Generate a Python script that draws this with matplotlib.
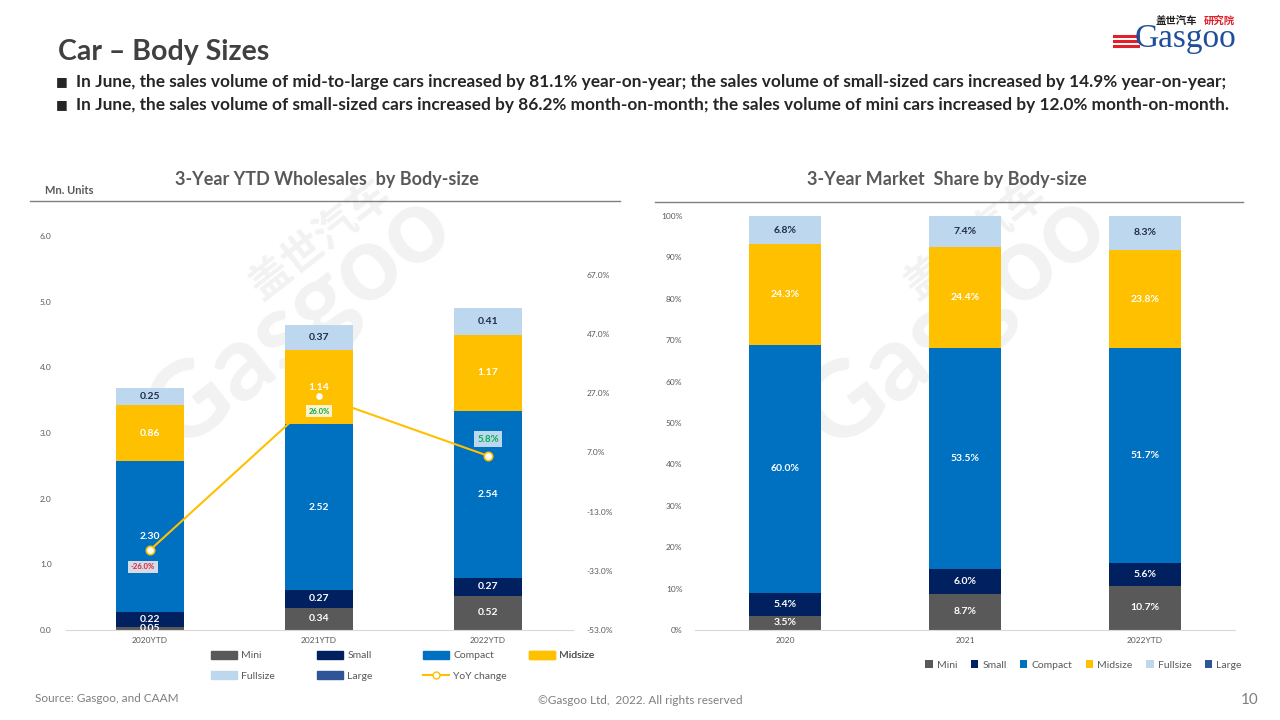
import numpy as np
import matplotlib.pyplot as plt
from matplotlib.patches import Patch
from matplotlib.lines import Line2D

plt.rcParams['font.family'] = ['Lato', 'Noto Sans CJK SC', 'DejaVu Sans']

# ---- data ----
years = ['2020YTD', '2021YTD', '2022YTD']
share_years = ['2020', '2021', '2022YTD']
segments = ['Mini', 'Small', 'Compact', 'Midsize', 'Fullsize', 'Large']

mini = [0.05, 0.34, 0.52]
small = [0.22, 0.27, 0.27]
compact = [2.30, 2.52, 2.54]
midsize = [0.86, 1.14, 1.17]
fullsize = [0.25, 0.37, 0.41]
large = [0.01, 0.0, 0.0]
yoy = [-26.0, 26.0, 5.8]

share_mini = [3.5, 8.7, 10.7]
share_small = [5.4, 6.0, 5.6]
share_compact = [60.0, 53.5, 51.7]
share_midsize = [24.3, 24.4, 23.8]
share_fullsize = [6.8, 7.4, 8.3]
share_large = [0.0, 0.0, 0.0]

left_ticks = [0, 1, 2, 3, 4, 5, 6]
right_ticks = [-53, -33, -13, 7, 27, 47, 67]
share_ticks = list(range(0, 101, 10))

colors = ['#595959', '#002060', '#0070C0', '#FFC000', '#BDD7EE', '#2F5597']
label_colors = ['white', 'white', 'white', 'white', '#1F2D4A', 'white']
grey = '#595959'

W, H = 1280, 720


def px(x, y):
    return x / W, 1 - y / H


fig = plt.figure(figsize=(12.8, 7.2), dpi=100)

# header
fig.text(*px(58, 52), 'Car \u2013 Body Sizes', fontsize=20.5, fontweight='bold',
         color='#404040', va='center')
bullets = [
    'In June, the sales volume of mid-to-large cars increased by 81.1% year-on-year; '
    'the sales volume of small-sized cars increased by 14.9% year-on-year;',
    'In June, the sales volume of small-sized cars increased by 86.2% month-on-month; '
    'the sales volume of mini cars increased by 12.0% month-on-month.',
]
for i, b in enumerate(bullets):
    y = 82 + i * 23
    fig.text(*px(56, y), '\u25a0', fontsize=9, color='#262626', va='center',
             family='DejaVu Sans')
    fig.text(*px(76, y), b, fontsize=12.45, fontweight='bold', color='#262626', va='center')

# logo
fig.text(*px(1176, 21), '盖世汽车', fontsize=7.5, fontweight='bold', color='#222222',
         ha='center', va='center', family='Noto Sans CJK SC')
fig.text(*px(1219, 21), '研究院', fontsize=7.5, fontweight='bold', color='#E0202A',
         ha='center', va='center', family='Noto Sans CJK SC')
fig.text(*px(1185, 39), 'Gasgoo', fontsize=24, color='#1F4E9A', ha='center', va='center',
         family='Liberation Serif')
for yy in [36, 41, 46]:
    x0, y0 = px(1114, yy)
    x1, _ = px(1138, yy)
    fig.add_artist(Line2D([x0, x1], [y0, y0], color='#E0202A', lw=2.2, transform=fig.transFigure))

# watermarks
for cx, cy in [(300, 320), (955, 320)]:
    fig.text(*px(cx, cy), 'Gasgoo', fontsize=76, color='#F2F2F2', rotation=38,
             ha='center', va='center', fontweight='bold', zorder=-2)
    fig.text(*px(cx + 20, cy - 80), '盖世汽车', fontsize=30, color='#F2F2F2', rotation=38,
             ha='center', va='center', family='Noto Sans CJK SC', fontweight='bold', zorder=-2)

# chart titles and rules
fig.text(*px(327, 179), '3-Year YTD Wholesales  by Body-size', fontsize=13, fontweight='bold',
         color=grey, ha='center', va='center')
fig.text(*px(947, 179), '3-Year Market  Share by Body-size', fontsize=13, fontweight='bold',
         color=grey, ha='center', va='center')
fig.text(*px(45, 190), 'Mn. Units', fontsize=8, fontweight='bold', color=grey, va='center')
for x0p, x1p, yp in [(30, 620, 201), (655, 1243, 202)]:
    a, b = px(x0p, yp)
    c, _ = px(x1p, yp)
    fig.add_artist(Line2D([a, c], [b, b], color='#7F7F7F', lw=1, transform=fig.transFigure))

# footer
fig.text(*px(35, 699), 'Source: Gasgoo, and CAAM', fontsize=8.5, color='#7F7F7F', va='center')
fig.text(*px(640, 700), '\u00a9Gasgoo Ltd,  2022. All rights reserved', fontsize=8.5,
         color='#7F7F7F', ha='center', va='center')
fig.text(*px(1250, 700), '10', fontsize=11, color='#7F7F7F', ha='center', va='center')


def style_axes(ax):
    for s in ['top', 'right', 'left']:
        ax.spines[s].set_visible(False)
    ax.spines['bottom'].set_color('#D9D9D9')
    ax.tick_params(length=0, labelsize=6, labelcolor=grey)
    ax.set_facecolor('none')


# ---- left chart: volumes ----
axL = fig.add_axes([65.5 / W, 90 / H, 507 / W, 394 / H])
style_axes(axL)
x = np.arange(len(years))
series = [mini, small, compact, midsize, fullsize, large]
bottom = np.zeros(len(years))
for vals, col, lc in zip(series, colors, label_colors):
    vals = np.array(vals)
    axL.bar(x, vals, 0.4, bottom=bottom, color=col, zorder=2)
    if vals.max() >= 0.05 and col != colors[5]:
        for xi, v, b0 in zip(x, vals, bottom):
            axL.text(xi, b0 + v / 2, f'{v:.2f}', ha='center', va='center', fontsize=7.5,
                     fontweight='bold', color=lc, zorder=4)
    bottom += vals
axL.set_xlim(-0.5, 2.5)
axL.set_ylim(0, 6)
axL.set_yticks(left_ticks)
axL.set_yticklabels([f'{t:.1f}' for t in left_ticks])
axL.tick_params(axis='y', pad=10)
axL.set_xticks(x)
axL.set_xticklabels(years)
axL.tick_params(axis='x', pad=5)

axR = axL.twinx()
axR.set_facecolor('none')
for s in axR.spines.values():
    s.set_visible(False)
axR.plot(x, yoy, color='#FFC000', lw=1.5, marker='o', ms=6, mfc='white', mec='#FFC000',
         mew=1.2, zorder=5)
axR.set_ylim(-53, 80)
axR.set_yticks(right_ticks)
axR.set_yticklabels([f'{t:.1f}%' for t in right_ticks])
axR.tick_params(length=0, labelsize=6, labelcolor=grey, pad=10)

yoy_style = [((-5, -12), '#E0203A', '#D6DCE5', 5.5),
             ((0, -11), '#00B050', '#FFF2CC', 5.5),
             ((0, 12), '#00B050', '#BDD7EE', 7)]
for xi, v, (off, tc, fc, fs) in zip(x, yoy, yoy_style):
    axR.annotate(f'{v:.1f}%', (xi, v), xytext=off, textcoords='offset points',
                 ha='center', va='center', fontsize=fs, color=tc, fontweight='bold',
                 bbox=dict(boxstyle='square,pad=0.35', fc=fc, ec='none'), zorder=6)

# left legend, one legend per column to keep the even spacing
handles = [Patch(color=c) for c in colors]
yoy_handle = Line2D([], [], color='#FFC000', lw=1.5, marker='o', ms=5, mfc='white', mec='#FFC000')
leg_cols = [[(handles[0], 'Mini'), (handles[4], 'Fullsize')],
            [(handles[1], 'Small'), (handles[5], 'Large')],
            [(handles[2], 'Compact'), (yoy_handle, 'YoY change')],
            [(handles[3], 'Midsize')]]
for j, col in enumerate(leg_cols):
    lx, ly = px(206 + j * 106, 646)
    leg = axR.legend([h for h, _ in col], [t for _, t in col], loc='upper left',
                     bbox_to_anchor=(lx, ly), bbox_transform=fig.transFigure, frameon=False,
                     fontsize=7.5, handlelength=2.5, handleheight=0.7, handletextpad=0.4,
                     labelspacing=1.05, borderpad=0, labelcolor=grey)
    axR.add_artist(leg)

# ---- right chart: market share ----
axS = fig.add_axes([695 / W, 90 / H, 540 / W, 414 / H])
style_axes(axS)
share_series = [share_mini, share_small, share_compact, share_midsize, share_fullsize, share_large]
bottom = np.zeros(len(share_years))
for vals, col, lc, name in zip(share_series, colors, label_colors, segments):
    vals = np.array(vals)
    axS.bar(x, vals, 0.4, bottom=bottom, color=col, label=name, zorder=2)
    if vals.max() > 0:
        for xi, v, b0 in zip(x, vals, bottom):
            axS.text(xi, b0 + v / 2, f'{v:.1f}%', ha='center', va='center', fontsize=7.5,
                     fontweight='bold', color=lc, zorder=4)
    bottom += vals
axS.set_xlim(-0.5, 2.5)
axS.set_ylim(0, 100)
axS.set_yticks(share_ticks)
axS.set_yticklabels([f'{t}%' for t in share_ticks])
axS.tick_params(axis='y', pad=9)
axS.set_xticks(x)
axS.set_xticklabels(share_years)
axS.tick_params(axis='x', pad=5)
lx, ly = px(920, 665)
axS.legend(loc='center left', bbox_to_anchor=(lx, ly), bbox_transform=fig.transFigure, ncol=6,
           frameon=False, fontsize=7.5, handlelength=0.7, handleheight=0.7, handletextpad=0.4,
           columnspacing=1.3, borderpad=0, labelcolor=grey)

fig.savefig('out.png', dpi=100)
